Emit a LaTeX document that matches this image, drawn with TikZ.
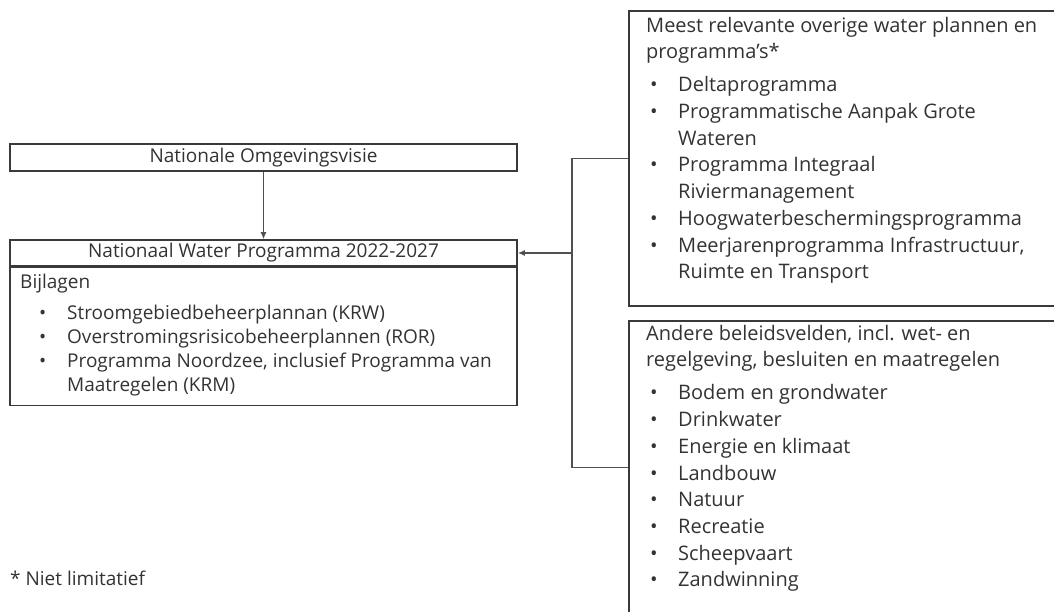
\documentclass[tikz,border=0pt]{standalone}
\usepackage{fontspec}
\setmainfont{Open Sans}
\usepackage{xcolor}
\usetikzlibrary{arrows.meta}
\definecolor{ink}{HTML}{333333}
\definecolor{edge}{HTML}{3A3A3A}
\definecolor{wire}{HTML}{505050}
\newcommand{\bul}[1][4pt]{\hspace*{#1}\makebox[28pt][l]{\textbullet}}
\newcommand{\cont}[1][32pt]{\hspace*{#1}}
\tikzset{
  frame/.style={draw=edge, line width=1.6pt, inner sep=0pt},
  ttl/.style={text=ink, font=\fontsize{19}{24}\selectfont},
  lbody/.style={text=ink, inner sep=0pt, align=left, font=\fontsize{19}{24}\selectfont},
  rbody/.style={text=ink, inner sep=0pt, align=left, font=\fontsize{20}{26.7}\selectfont},
  wire/.style={draw=wire, line width=1.3pt},
  tip/.style={-{Latex[length=7pt,width=6pt]}},
}
\begin{document}
\begin{tikzpicture}[x=1pt,y=-1pt]
  \useasboundingbox (0,0) rectangle (1054,612);
  \clip (0,0) rectangle (1054,612);

  \node[frame,ttl,minimum width=507pt,minimum height=27pt] (nov) at (263.5,157.5) {Nationale Omgevingsvisie};
  \node[frame,ttl,minimum width=507pt,minimum height=26pt] (nwp) at (263.5,253) {Nationaal Water Programma 2022-2027};
  \node[frame,anchor=north,minimum width=507pt,minimum height=138pt] (bijl) at (nwp.south) {};
  \node[lbody,anchor=north west] (bijltxt) at (20,273.6) {Bijlagen\\[7pt]
    \bul[19pt]Stroomgebiedbeheerplannan (KRW)\\
    \bul[19pt]Overstromingsrisicobeheerplannen (ROR)\\
    \bul[19pt]Programma Noordzee, inclusief Programma van\\
    \cont[47pt]Maatregelen (KRM)};

  \node[frame,anchor=north west,minimum width=470pt,minimum height=295pt] (meest) at (628,10) {};
  \node[rbody,anchor=north west] (meesttxt) at (646,16.8) {Meest relevante overige water plannen en\\
    programma's*\\[6.3pt]
    \bul Deltaprogramma\\
    \bul Programmatische Aanpak Grote\\
    \cont Wateren\\
    \bul Programma Integraal\\
    \cont Riviermanagement\\
    \bul Hoogwaterbeschermingsprogramma\\
    \bul Meerjarenprogramma Infrastructuur,\\
    \cont Ruimte en Transport};

  \node[frame,anchor=north west,minimum width=470pt,minimum height=294pt] (andere) at (628,320) {};
  \node[rbody,anchor=north west] (anderetxt) at (646,324.8) {Andere beleidsvelden, incl. wet- en\\
    regelgeving, besluiten en maatregelen\\[6.3pt]
    \bul Bodem en grondwater\\
    \bul Drinkwater\\
    \bul Energie en klimaat\\
    \bul Landbouw\\
    \bul Natuur\\
    \bul Recreatie\\
    \bul Scheepvaart\\
    \bul Zandwinning};

  \node[ttl,inner sep=0pt,anchor=base west] (noot) at (10,585) {* Niet limitatief};

  \draw[wire,tip] (nov) -- (nwp);
  \draw[wire] (meest.west) -- ++(-56,0) coordinate (jn) |- (andere.west);
  \draw[wire,tip] (jn |- nwp.east) -- (nwp.east);
\end{tikzpicture}
\end{document}
